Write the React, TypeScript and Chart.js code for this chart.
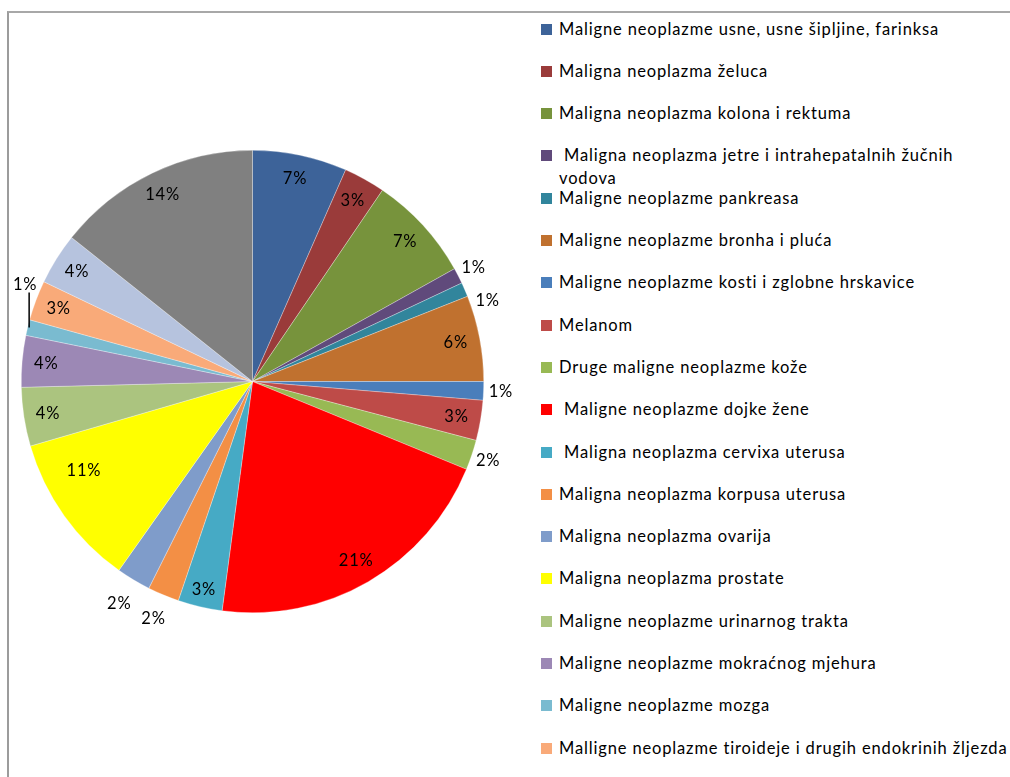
import React, { useEffect, useRef } from "react";
import { Chart, registerables } from "chart.js";

Chart.register(...registerables);

const categories: string[] = [
  "Maligne neoplazme usne, usne šipljine, farinksa",
  "Maligna neoplazma želuca",
  "Maligna neoplazma kolona i rektuma",
  " Maligna neoplazma jetre i intrahepatalnih žučnih vodova",
  "Maligne neoplazme pankreasa",
  "Maligne neoplazme bronha i pluća",
  "Maligne neoplazme kosti i zglobne hrskavice",
  "Melanom",
  "Druge maligne neoplazme kože",
  " Maligne neoplazme dojke žene",
  " Maligna neoplazma cervixa uterusa",
  "Maligna neoplazma korpusa uterusa",
  "Maligna neoplazma ovarija",
  "Maligna neoplazma prostate",
  "Maligne neoplazme urinarnog trakta",
  "Maligne neoplazme mokraćnog mjehura",
  "Maligne neoplazme mozga",
  "Malligne neoplazme tiroideje i drugih endokrinih žljezda",
  "Maligne neoplazme limfnog i krvotvornog tkiva",
  "Ostale maligne neoplazme",
];

const values: number[] = [
  6.6, 2.9, 7.4, 1.1, 1.0, 6.0, 1.3, 2.8, 2.1, 20.9,
  3.1, 2.2, 2.4, 10.7, 4.1, 3.6, 1.1, 2.8, 3.6, 14.3,
];

const colors: string[] = [
  "#3D6399", "#9A3B3A", "#77933C", "#604A7B", "#31859C", "#C0712F",
  "#4A7EBB", "#BE4B48", "#98B954", "#FF0000", "#46AAC5", "#F38F45",
  "#7F9CCA", "#FFFF00", "#ABC47F", "#9C88B5", "#7ABBD0", "#F9AA79",
  "#B6C3DE", "#808080",
];

// label placement styling (per slice index)
const labelTweaks: Record<number, { angle?: number; r?: number }> = {
  4: { angle: 4.5 },
  10: { r: 0.925 },
  11: { r: 1.11 },
  12: { r: 1.12 },
  13: { angle: 7.5, r: 0.825 },
};
const leaderIndex = 16;
// legend text wrap widths (style), default wide enough for a single line
const legendWrapWidth: Record<number, number> = { 3: 400 };
const FONT = "Lato, 'Open Sans', sans-serif";
const FONT_SIZE = 16.5;
const SPACING = 0.85;

const labelPlugin = {
  id: "pctLabels",
  afterDatasetsDraw(chart: any) {
    const ctx: any = chart.ctx;
    const meta = chart.getDatasetMeta(0);
    const data = chart.data.datasets[0].data as number[];
    const total = data.reduce((a, b) => a + b, 0);
    ctx.save();
    ctx.font = `${FONT_SIZE}px ${FONT}`;
    ctx.letterSpacing = `${SPACING}px`;
    ctx.fillStyle = "#000";
    ctx.textAlign = "center";
    ctx.textBaseline = "middle";
    meta.data.forEach((arc: any, i: number) => {
      const { x, y, startAngle, endAngle, outerRadius } = arc.getProps(
        ["x", "y", "startAngle", "endAngle", "outerRadius"],
        true
      );
      const pct = (data[i] / total) * 100;
      const text = Math.round(pct) + "%";
      let mid = (startAngle + endAngle) / 2;
      const tw = labelTweaks[i] || {};
      if (tw.angle) mid += (tw.angle * Math.PI) / 180;
      if (i === leaderIndex) {
        const ex = x + outerRadius * Math.cos(mid);
        const ey = y + outerRadius * Math.sin(mid);
        ctx.strokeStyle = "#000";
        ctx.lineWidth = 1.5;
        ctx.beginPath();
        ctx.moveTo(ex + 1.5, ey);
        ctx.lineTo(ex + 1.5, ey - 35);
        ctx.stroke();
        ctx.fillText(text, ex - 2.5, ey - 42.5);
        return;
      }
      const outside = pct < 2.5;
      const rf = tw.r ?? (outside ? 1.075 : 0.895);
      const r = outerRadius * rf;
      ctx.fillText(text, x + r * Math.cos(mid), y + r * Math.sin(mid));
    });
    ctx.restore();
  },
};

export default function App() {
  const ref = useRef<HTMLCanvasElement | null>(null);

  useEffect(() => {
    if (!ref.current) return;
    const chart = new Chart(ref.current, {
      type: "pie",
      data: {
        labels: categories,
        datasets: [
          {
            data: values,
            backgroundColor: colors,
            borderColor: "rgba(255,255,255,0.6)",
            borderWidth: 0.5,
          },
        ],
      },
      options: {
        animation: false,
        responsive: false,
        devicePixelRatio: 1,
        layout: { padding: { left: 21, top: 150, right: 36, bottom: 164 } },
        plugins: {
          legend: { display: false },
          tooltip: { enabled: false },
        },
        events: [],
      },
      plugins: [labelPlugin],
    });
    return () => chart.destroy();
  }, []);

  const rowStart = 29;
  const rowGap = 42.3;

  return (
    <div
      style={{
        position: "fixed",
        left: 0,
        top: 0,
        width: 1010,
        height: 777,
        overflow: "hidden",
        background: "#fff",
        fontFamily: FONT,
      }}
    >
      <div
        style={{
          position: "absolute",
          left: 7,
          top: 11,
          width: 1200,
          height: 1000,
          borderLeft: "2px solid #9c9c9c",
          borderTop: "2px solid #a8a8a8",
        }}
      />
      <canvas
        ref={ref}
        width={520}
        height={777}
        style={{ position: "absolute", left: 0, top: 0, width: 520, height: 777 }}
      />
      {categories.map((c, i) => {
        const cy = rowStart + i * rowGap;
        return (
          <React.Fragment key={i}>
            <div
              style={{
                position: "absolute",
                left: 541,
                top: cy - 5.5,
                width: 11,
                height: 11,
                background: colors[i],
              }}
            />
            <div
              style={{
                position: "absolute",
                left: 559,
                top: cy - 11.5,
                width: legendWrapWidth[i] ?? 520,
                fontSize: FONT_SIZE,
                letterSpacing: SPACING,
                lineHeight: "23px",
                color: "#000",
                whiteSpace: "pre-wrap",
              }}
            >
              {c}
            </div>
          </React.Fragment>
        );
      })}
    </div>
  );
}
